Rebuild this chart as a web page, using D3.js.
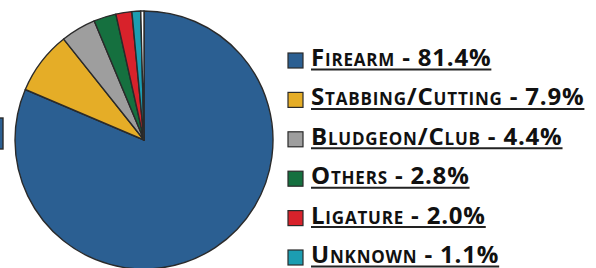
<!DOCTYPE html>
<html>
<head>
<meta charset="utf-8">
<script src="https://cdn.jsdelivr.net/npm/d3@7"></script>
<style>
  body { margin: 0; background: #fff; }
  svg { display: block; }
  .lbl { font-family: "Open Sans", sans-serif; font-weight: 700; font-variant: small-caps; font-size: 24px; fill: #111; }
</style>
</head>
<body>
<svg width="596" height="268"></svg>
<script>

  const categories = ["Firearm", "Stabbing/Cutting", "Bludgeon/Club", "Others", "Ligature", "Unknown", ""];
  const shares = [81.4, 7.9, 4.4, 2.8, 2.0, 1.1, 0.4];
  const colors = ["#2b5f92", "#e5ad27", "#9e9e9e", "#15703f", "#d8222b", "#1c9db1", "#ffffff"];

  const svg = d3.select("svg");

  // pie

  const cx = 144, cy = 140, r = 129;

  const pie = d3.pie().sort(null).value(d => d.v);
  const arc = d3.arc().innerRadius(0).outerRadius(r);

  const slices = categories.map((c, i) => ({name: c, v: shares[i], color: colors[i]}));

  const g = svg.append("g").attr("transform", `translate(${cx},${cy})`);

  g.selectAll("path").data(pie(slices))
    .enter().append("path")
      .attr("d", arc)
      .style("fill", d => d.data.color)
      .style("stroke", "#2a2a2a")
      .style("stroke-width", 1.4)
      .style("stroke-linejoin", "round")

  // stray swatch at the left edge
  svg.append("rect")
    .attr("x", -20).attr("y", 118).attr("width", 23).attr("height", 31)
    .style("fill", colors[0]).style("stroke", "#2a2a2a").style("stroke-width", 1.4)

  // legend

  const legendItems = slices.filter(d => d.name != "");
  const y = d3.scalePoint().domain(legendItems.map(d => d.name)).range([66, 263]);

  const rows = svg.selectAll(".row").data(legendItems)
    .enter().append("g")
      .attr("class", "row")
      .attr("transform", d => `translate(0,${y(d.name)})`)

  rows.append("rect")
    .attr("x", 288).attr("y", -13).attr("width", 15).attr("height", 15)
    .style("fill", d => d.color)
    .style("stroke", "#2a2a2a")
    .style("stroke-width", 1.2)

  rows.append("text")
    .attr("class", "lbl")
    .attr("x", 311)
    .attr("y", 0)
    .style("letter-spacing", "0.8px")
    .text(d => `${d.name} - ${d.v.toFixed(1)}%`)

  rows.each(function() {
    const row = d3.select(this);
    const w = row.select("text").node().getComputedTextLength();
    row.append("line")
      .attr("x1", 311).attr("x2", 311 + w)
      .attr("y1", 3.5).attr("y2", 3.5)
      .style("stroke", "#222")
      .style("stroke-width", 2)
  })

</script>
</body>
</html>
